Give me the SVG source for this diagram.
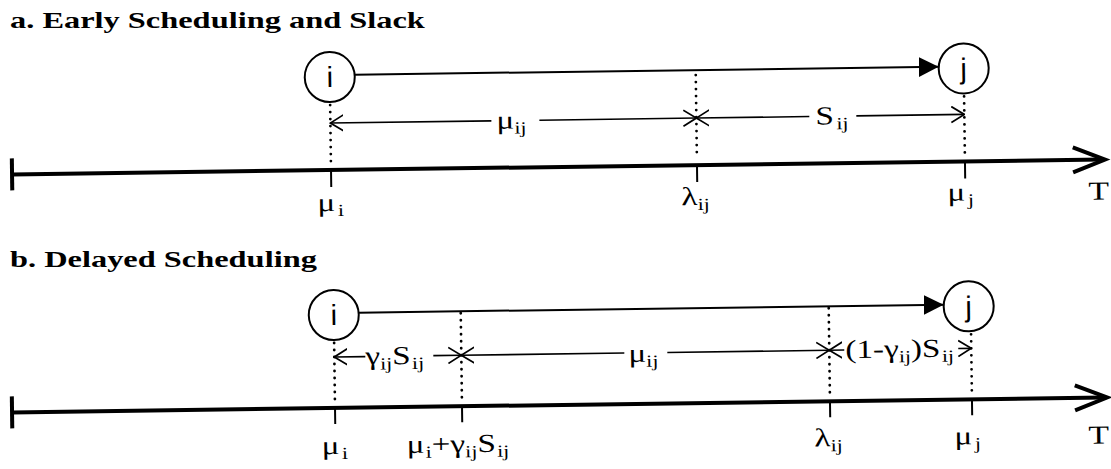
<svg xmlns="http://www.w3.org/2000/svg" width="1111" height="469" viewBox="0 0 1111 469">
<style>
.title{font-family:"Liberation Serif",serif;font-weight:bold;font-size:24px}
.lbl{font-family:"Liberation Serif",serif;font-size:26px}
.sub{font-size:17px}
.node circle{fill:#fff;stroke:#000;stroke-width:2}
.node text{font-family:"Liberation Sans",sans-serif;font-size:29px;text-anchor:middle}
.axis{stroke:#000;stroke-width:4;fill:none}
.tick{stroke:#000;stroke-width:2}
.dot{stroke:#000;stroke-width:2.8;stroke-linecap:round;stroke-dasharray:0 7;fill:none}
.dimline{stroke:#000;stroke-width:1.6;fill:none;marker-end:url(#open)}
.edge{stroke:#000;stroke-width:2;fill:none;marker-end:url(#tri)}
</style>
<defs>
<marker id="tri" markerUnits="userSpaceOnUse" viewBox="0 0 20 20" markerWidth="20" markerHeight="20" refX="20" refY="10" orient="auto"><path d="M0,0 L20,10 L0,20 Z" fill="#000"/></marker>
<marker id="open" markerUnits="userSpaceOnUse" viewBox="0 0 14 18" markerWidth="14" markerHeight="18" refX="13" refY="9" orient="auto"><path d="M0,1 L13,9 L0,17" fill="none" stroke="#000" stroke-width="1.7"/></marker>
</defs>

<text class="title" x="10" y="28" transform="translate(10,0) scale(1.35,1) translate(-10,0)">a. Early Scheduling and Slack</text>
<text class="title" x="10" y="267" transform="translate(10,0) scale(1.35,1) translate(-10,0)">b. Delayed Scheduling</text>

<g id="panel-a" transform="rotate(-0.78 555 167)">
  <g id="axis-a">
    <path class="axis" d="M12,167 L1102,167"/>
    <path class="axis" d="M12,151 L12,183"/>
    <path class="axis" d="M1073,154.5 L1105,167 L1073,179.5"/>
    <path class="tick" d="M331,167 L331,184 M697,167 L697,184 M965,167 L965,184"/>
    <path class="dot" d="M331,102 L331,161"/>
    <path class="dot" d="M697,77 L697,161"/>
    <path class="dot" d="M965,102 L965,161"/>
  </g>
  <g id="connectors-a">
    <path class="edge" d="M356,72 L940,72"/>
    <path class="dimline" d="M492,120 L331,120"/>
    <path class="dimline" d="M540,120 L697,120"/>
    <path class="dimline" d="M810,120 L697,120"/>
    <path class="dimline" d="M857,120 L965,120"/>
  </g>
  <g id="node-a-i" class="node"><circle cx="331" cy="74" r="25"/><text x="331" y="84">i</text></g>
  <g id="node-a-j" class="node"><circle cx="965" cy="74" r="25"/><text x="965" y="84">j</text></g>
  <g id="labels-a" class="lbl">
    <text transform="translate(497,128) scale(1.28,1)">μ<tspan class="sub" dy="5">ij</tspan></text>
    <text transform="translate(816,128) scale(1.28,1)">S<tspan class="sub" dx="2" dy="5">ij</tspan></text>
    <text transform="translate(317,208) scale(1.28,1)">μ<tspan class="sub" dx="2" dy="5">i</tspan></text>
    <text transform="translate(681,207) scale(1.28,1)">λ<tspan class="sub" dy="5">ij</tspan></text>
    <text transform="translate(947,206) scale(1.28,1)">μ<tspan class="sub" dx="2" dy="5">j</tspan></text>
    <text transform="translate(1088,207) scale(1.3,1)" style="font-size:26px">T</text>
  </g>
</g>

<g id="panel-b" transform="rotate(-0.78 555 405)">
  <g id="axis-b">
    <path class="axis" d="M12,405 L1104,405"/>
    <path class="axis" d="M12,389 L12,421"/>
    <path class="axis" d="M1075,392.5 L1107,405 L1075,417.5"/>
    <path class="tick" d="M335,405 L335,421 M462,405 L462,421 M830,405 L830,421 M972,405 L972,421"/>
    <path class="dot" d="M335,340 L335,399"/>
    <path class="dot" d="M462,312 L462,399"/>
    <path class="dot" d="M830,312 L830,399"/>
    <path class="dot" d="M972,340 L972,399"/>
  </g>
  <g id="connectors-b">
    <path class="edge" d="M360,310 L945,310"/>
    <path class="dimline" d="M366,354 L335,354"/>
    <path class="dimline" d="M434,354 L462,354"/>
    <path class="dimline" d="M625,354 L462,354"/>
    <path class="dimline" d="M668,354 L830,354"/>
    <path class="dimline" d="M845,354 L830,354"/>
    <path class="dimline" d="M959,354 L972,354"/>
  </g>
  <g id="node-b-i" class="node"><circle cx="335" cy="312" r="25"/><text x="335" y="322">i</text></g>
  <g id="node-b-j" class="node"><circle cx="970" cy="312" r="25"/><text x="970" y="322">j</text></g>
  <g id="labels-b" class="lbl">
    <text transform="translate(366,362) scale(1.28,1)">γ<tspan class="sub" dy="5">ij</tspan><tspan dy="-5">S</tspan><tspan class="sub" dx="1" dy="5">ij</tspan></text>
    <text transform="translate(629,363) scale(1.28,1)">μ<tspan class="sub" dy="5">ij</tspan></text>
    <text transform="translate(846,362) scale(1.28,1)">(1-γ<tspan class="sub" dy="5">ij</tspan><tspan dy="-5">)S</tspan><tspan class="sub" dx="1" dy="5">ij</tspan></text>
    <text transform="translate(321,451) scale(1.28,1)">μ<tspan class="sub" dx="2" dy="5">i</tspan></text>
    <text transform="translate(406,451) scale(1.28,1)">μ<tspan class="sub" dx="1" dy="5">i</tspan><tspan dy="-5">+γ</tspan><tspan class="sub" dy="5">ij</tspan><tspan dy="-5">S</tspan><tspan class="sub" dx="1" dy="5">ij</tspan></text>
    <text transform="translate(814,450) scale(1.28,1)">λ<tspan class="sub" dy="5">ij</tspan></text>
    <text transform="translate(954,450) scale(1.28,1)">μ<tspan class="sub" dx="2" dy="5">j</tspan></text>
    <text transform="translate(1088,451) scale(1.3,1)" style="font-size:26px">T</text>
  </g>
</g>
</svg>
